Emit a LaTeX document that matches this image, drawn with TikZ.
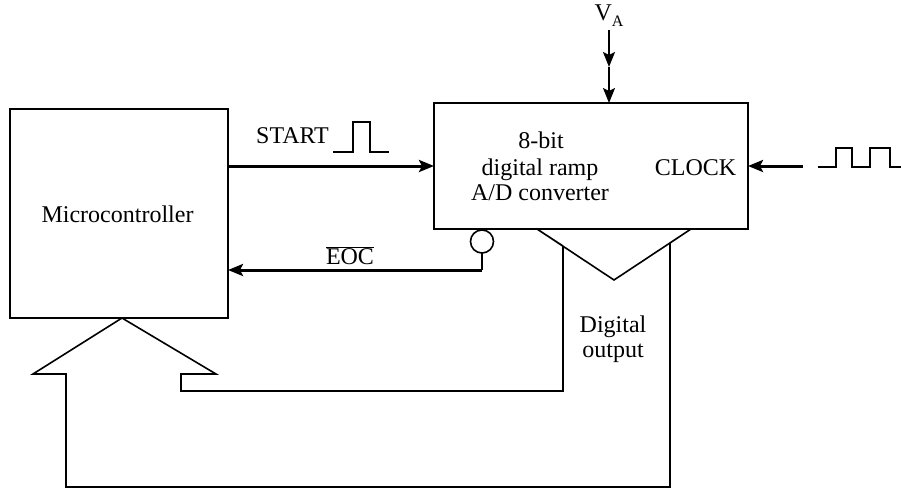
\documentclass[tikz,border=0pt]{standalone}
\usepackage{fontspec}
\setmainfont{Liberation Serif}
\usetikzlibrary{arrows.meta}
\begin{document}
\begin{tikzpicture}[x=1pt,y=-1pt,
  box/.style={draw, line width=1.6pt, rectangle, inner sep=0pt, outer sep=0pt},
  lbl/.style={inner sep=0pt, anchor=base, font=\fontsize{24}{26}\selectfont},
  wire/.style={line width=1.6pt},
  thin arrow/.style={line width=2pt, -{Stealth[length=15pt,width=12pt,inset=3pt]}},
  sig/.style={line width=3pt, -{Stealth[length=15pt,width=12pt,inset=3pt]}},
]
\useasboundingbox (0,0) rectangle (901,488);

% blocks
\node[box, minimum width=218pt, minimum height=209pt] (mc) at (119,213.5) {};
\node[box, minimum width=314pt, minimum height=126pt] (adc) at (591,166) {};
\node[draw, circle, line width=1.6pt, minimum size=23pt, inner sep=0pt, outer sep=0pt] (eoc) at (482,241.5) {};

% labels
\node[lbl] (mclbl) at (117.5,222) {Microcontroller};
\node[lbl] (l1) at (541,148) {8-bit};
\node[lbl] (l2) at (540,175) {digital ramp};
\node[lbl] (l3) at (540,200) {A/D converter};
\node[lbl] (clklbl) at (695.5,175) {CLOCK};
\node[lbl] (startlbl) at (292.5,143) {START};
\node[lbl] (eoclbl) at (350,264) {$\overline{\mbox{EOC}}$};
\node[lbl] (dig1) at (613,332) {Digital};
\node[lbl] (dig2) at (613,357) {output};
\node[lbl] (valbl) at (609,20) {V\raisebox{-6pt}{\fontsize{16}{16}\selectfont A}};

% V_A input
\coordinate (vtop) at (609,30);
\coordinate (vmid) at (609,67);
\draw[thin arrow] (vtop) -- (vmid);
\draw[thin arrow] (vmid) -- (adc.north -| vmid);

% START
\draw[sig] (mc.east |- adc.west) -- (adc.west);
\draw[wire] (333,152) -- (353,152) -- (353,122) -- (370,122) -- (370,152) -- (389,152);

% CLOCK
\coordinate (clk) at (803,166);
\draw[sig] (clk) -- (adc.east);
\draw[wire] (818,167) -- (836,167) -- (836,148) -- (852,148) -- (852,167) -- (870,167) -- (870,148) -- (890,148) -- (890,167) -- (901,167);

% EOC
\coordinate (e1) at (482,270);
\draw[wire] (eoc.south) -- (e1);
\draw[sig] (e1) -- (e1 -| mc.east);

% digital output bus
\draw[wire, line join=miter] (563,246) -- (537,229) -- (614,280) -- (691,229) -- (670,243);
\draw[wire, line join=miter]
  (563,246) -- (563,391) -- (181,391) -- (181,374) -- (216,374) -- (122,318)
  -- (33,374) -- (66,374) -- (66,487) -- (670,487) -- (670,243);
\end{tikzpicture}
\end{document}
